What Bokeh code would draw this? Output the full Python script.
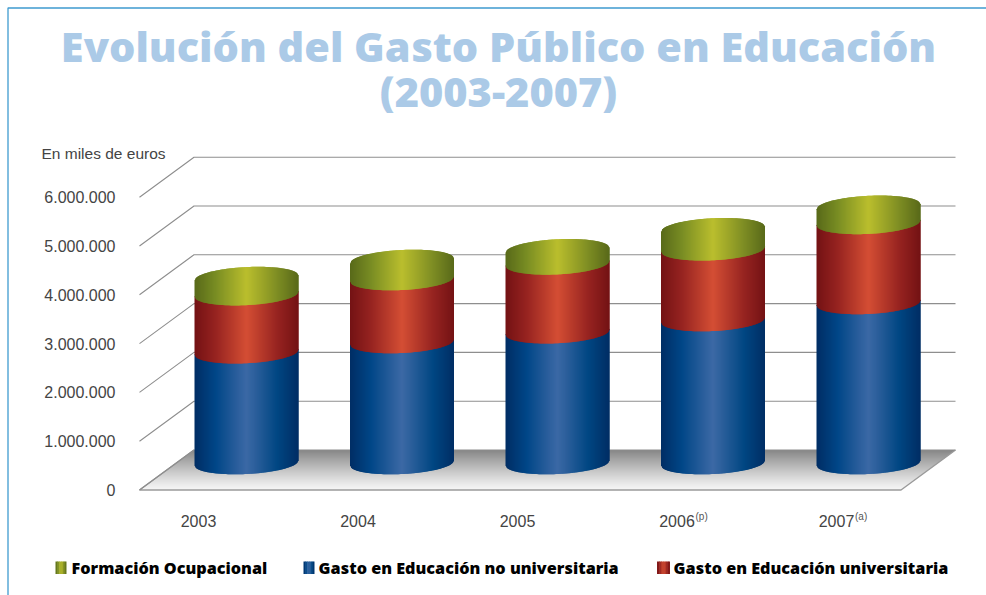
from bokeh.plotting import figure
from bokeh.embed import file_html
from bokeh.resources import INLINE
from bokeh.core.properties import value
from bokeh.models import Range1d, LinearAxis, FixedTicker
import math

# ---- data ----
years = [2003, 2004, 2005, 2006, 2007]
year_marks = {2006: "(p)", 2007: "(a)"}
no_universitaria = [2270000, 2480000, 2680000, 2930000, 3280000]
universitaria = [1190000, 1290000, 1410000, 1450000, 1640000]
ocupacional = [330000, 370000, 270000, 410000, 330000]
tick_values = [0, 1000000, 2000000, 3000000, 4000000, 5000000, 6000000]
tick_labels = ["0", "1.000.000", "2.000.000", "3.000.000", "4.000.000", "5.000.000", "6.000.000"]
title_lines = ["Evolución del Gasto Público en Educación", "(2003-2007)"]
unit_label = "En miles de euros"
legend_labels = ["Formación Ocupacional", "Gasto en Educación no universitaria", "Gasto en Educación  universitaria"]

# ---- styles ----
BLUE = [(0, (0, 45, 100)), (.2, (0, 70, 135)), (.5, (60, 105, 165)), (.8, (0, 70, 130)), (1, (0, 45, 100))]
RED = [(0, (115, 18, 20)), (.2, (150, 35, 32)), (.5, (212, 78, 52)), (.8, (150, 35, 32)), (1, (115, 18, 20))]
OLIVE = [(0, (88, 105, 25)), (.2, (120, 140, 35)), (.5, (186, 190, 45)), (.8, (125, 140, 35)), (1, (88, 105, 25))]

def grad(stops, t):
    for (t0, c0), (t1, c1) in zip(stops, stops[1:]):
        if t <= t1:
            f = (t - t0) / (t1 - t0)
            return "#%02x%02x%02x" % tuple(round(a + (b - a) * f) for a, b in zip(c0, c1))
    return "#%02x%02x%02x" % stops[-1][1]

# ---- scales: one x unit is one category, y is the value on the front plane ----
W, H = 986, 595
PX_PER_CAT = 155.5
X0_PX = 246.0
PX_PER_UNIT = 48.8 / 1e6
Y0_PX = 489.5
def X(px): return (px - X0_PX) / PX_PER_CAT
def Y(py): return (Y0_PX - py) / PX_PER_UNIT
DX = 1 / PX_PER_CAT
DY = 1 / PX_PER_UNIT

p = figure(width=W, height=H, output_backend="svg", toolbar_location=None,
           x_range=Range1d(X(0), X(W)), y_range=Range1d(Y(H), Y(0)),
           min_border=0, outline_line_color=None, background_fill_color="white")
p.xaxis.visible = False
p.yaxis.visible = False
p.grid.visible = False

# frame
p.line([X(W), X(7.5), X(7.5)], [Y(7.5), Y(7.5), Y(H)], line_color="#3f9bd0", line_width=1.3)

# floor
DEPTH_X, DEPTH_Y = 54.5 * DX, 40 * DY
FX0, FX1 = X(139), X(900.5)
xs, ys, cols = [], [], []
N = 40
for k in range(N):
    a, b = k / N, min(1, (k + 1.5) / N)
    xs.append([FX0 + DEPTH_X * a, FX1 + DEPTH_X * a, FX1 + DEPTH_X * b, FX0 + DEPTH_X * b])
    ys.append([DEPTH_Y * a, DEPTH_Y * a, DEPTH_Y * b, DEPTH_Y * b])
    g = round(245 - 110 * (k / (N - 1)) ** 1.15)
    cols.append("#%02x%02x%02x" % (g, g, g))
p.patches(xs, ys, fill_color=cols, line_color=None)
p.line([FX0 + DEPTH_X, FX0, FX1, FX1 + DEPTH_X], [DEPTH_Y, 0, 0, DEPTH_Y], line_color="#9a9a9a", line_width=1.4)

# grid
for v in tick_values:
    p.line([FX0, FX0 + DEPTH_X, FX1 + DEPTH_X], [v, v + DEPTH_Y, v + DEPTH_Y], line_color="#8e8e8e", line_width=1.1)

# cylinders
HALF_W = 52 * DX
B_PX, S_PX = 11.0, 2.5
LIFT = 27 * DY
def low(u): return -(B_PX * math.sqrt(max(0, 1 - u * u)) - S_PX * u) * DY
def up(u): return (B_PX * math.sqrt(max(0, 1 - u * u)) + S_PX * u) * DY
STRIPS = 104
bx, by, bc = [], [], []
def band(cx, v0, v1, stops):
    for k in range(STRIPS):
        u1 = -1 + 2 * k / STRIPS
        u2 = min(1, -1 + 2 * (k + 2) / STRIPS)
        bx.append([cx + HALF_W * u1, cx + HALF_W * u2, cx + HALF_W * u2, cx + HALF_W * u1])
        by.append([v0 + LIFT + low(u1), v0 + LIFT + low(u2), v1 + LIFT + up(u2), v1 + LIFT + up(u1)])
        bc.append(grad(stops, (k + .5) / STRIPS))
for i in range(len(years)):
    a = no_universitaria[i]
    b = a + universitaria[i]
    c = b + ocupacional[i]
    band(i, 0, a, BLUE)
    band(i, a, b, RED)
    band(i, b, c, OLIVE)
p.patches(bx, by, fill_color=bc, line_color=None)

# value axis drawn at the front plane
FONT = "Liberation Sans"
yax = LinearAxis(ticker=FixedTicker(ticks=tick_values), fixed_location=X(121),
                 major_label_overrides=dict(zip(tick_values, tick_labels)),
                 axis_line_color=None, major_tick_line_color=None, minor_tick_line_color=None,
                 major_label_standoff=0, major_label_text_font=FONT,
                 major_label_text_font_size="16px", major_label_text_color="#444444")
p.add_layout(yax, "left")

# year axis with its own range for the label spacing
p.extra_x_ranges["years"] = Range1d(2003 + (0 - 198) / 159.5, 2003 + (W - 198) / 159.5)
xax = LinearAxis(x_range_name="years", ticker=FixedTicker(ticks=years), fixed_location=Y(508),
                 axis_line_color=None, major_tick_line_color=None, minor_tick_line_color=None,
                 major_label_standoff=0, major_label_text_font=FONT,
                 major_label_text_font_size="16px", major_label_text_color="#444444")
xax.formatter.use_scientific = False
p.add_layout(xax, "below")
p.text([y for y in year_marks], [Y(516)] * len(year_marks), text=list(year_marks.values()),
       x_range_name="years", x_offset=18.5, text_font=value(FONT), text_font_size="10px",
       text_color="#555555", text_baseline="alphabetic")

# texts (this page draws text glyph baselines lower than asked, so the y values allow for it)
p.text([X(41)], [Y(152.5)], text=[unit_label], text_font=value(FONT), text_font_size="15.5px",
       text_color="#444444", text_baseline="alphabetic")
HEAVY = "Open Sans ExtraBold"
p.text([X(498), X(498)], [Y(45.7), Y(90.5)], text=title_lines, text_font=value(HEAVY), text_font_size="41.5px",
       text_color="#abcae7", text_align="center", text_baseline="alphabetic")

# legend
swatches = [(55, 11, OLIVE), (303, 11, BLUE), (656.5, 13, RED)]
text_x = [71, 318, 673]
sx, sy, sc = [], [], []
for (left, w, stops) in swatches:
    for k in range(6):
        x0 = X(left + w * k / 6)
        x1 = X(left + w * min(6, k + 1.3) / 6)
        sx.append([x0, x1, x1, x0])
        sy.append([Y(573.5), Y(573.5), Y(561), Y(561)])
        sc.append(grad(stops, (k + .5) / 6))
p.patches(sx, sy, fill_color=sc, line_color=None)
p.text([X(t) for t in text_x], [Y(567)] * 3, text=legend_labels, text_font=value(HEAVY), text_font_size="16.2px",
       text_color="#000000", text_baseline="alphabetic")

open("out.html", "w").write(file_html(p, INLINE))
